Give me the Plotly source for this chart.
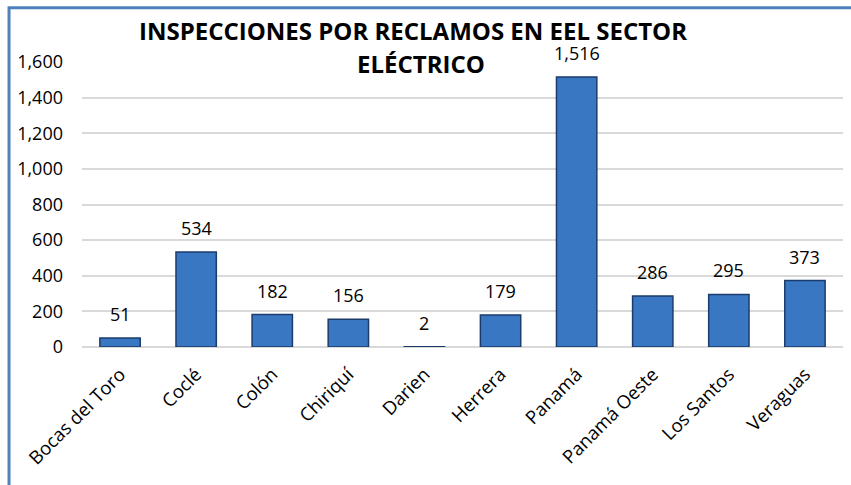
import plotly.graph_objects as go

provincias = ["Bocas del Toro", "Coclé", "Colón", "Chiriquí", "Darien", "Herrera",
              "Panamá", "Panamá Oeste", "Los Santos", "Veraguas"]
inspecciones = [51, 534, 182, 156, 2, 179, 1516, 286, 295, 373]
y_ticks = [0, 200, 400, 600, 800, 1000, 1200, 1400, 1600]

titulo_1 = "INSPECCIONES POR RECLAMOS EN EEL SECTOR"
titulo_2 = "ELÉCTRICO"
fuente = "Open Sans"

fig = go.Figure()
fig.add_trace(go.Bar(
    x=provincias,
    y=inspecciones,
    width=0.53,
    marker=dict(color="#3A77C3", line=dict(color="#1B3C6B", width=1.5)),
    hoverinfo="x+y",
))

# value labels above each bar
for p, v in zip(provincias, inspecciones):
    fig.add_annotation(x=p, y=v, text=f"{v:,}", showarrow=False,
                       yshift=24, font=dict(family=fuente, size=18, color="#000000"))

# two-line bold title sitting over the top of the plot area
for texto, tx, ty in [(titulo_1, 0.435, 1.112), (titulo_2, 0.445, 0.996)]:
    fig.add_annotation(xref="paper", yref="paper", x=tx, y=ty, text=f"<b>{texto}</b>",
                       showarrow=False, xanchor="center", yanchor="middle",
                       font=dict(family=fuente, size=24, color="#000000"))

fig.update_layout(
    width=851, height=485,
    margin=dict(l=82, r=8, t=62, b=138),
    paper_bgcolor="white", plot_bgcolor="white",
    showlegend=False,
    xaxis=dict(tickangle=-45, tickfont=dict(family=fuente, size=18.5, color="#000000"),
               showgrid=False, showline=False, ticks="", ticklabelstandoff=12),
    yaxis=dict(range=[0, 1600], tickvals=y_ticks, tickformat=",d",
               tickfont=dict(family=fuente, size=18, color="#000000"),
               showgrid=True, gridcolor="#D9D9D9", gridwidth=1.5,
               zeroline=True, zerolinecolor="#D9D9D9", zerolinewidth=1.5,
               ticks="", ticklabelstandoff=18),
)

# outer frame: left and top edges (pixel-based path on the page)
fig.add_shape(type="path", xref="paper", yref="paper",
              path="M -0.0959,-0.6 L -0.0959,1.19 L 1.05,1.19",
              line=dict(color="#4F81BD", width=3))

fig.write_html("out.html")
